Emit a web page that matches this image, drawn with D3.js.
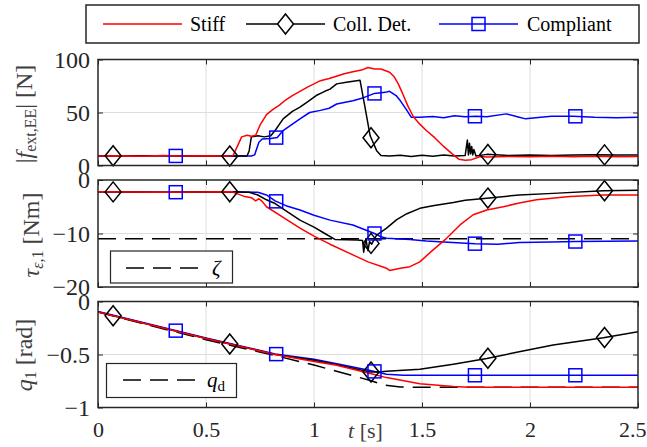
<!DOCTYPE html>
<html>
<head>
<meta charset="utf-8">
<script src="https://cdn.jsdelivr.net/npm/d3@7/dist/d3.min.js"></script>
<style>
  html, body { margin: 0; padding: 0; background: #fff; }
  svg { display: block; font-family: "Liberation Serif", "Times New Roman", serif; }
  svg text { font-family: "Liberation Serif", "Times New Roman", serif; }
</style>
</head>
<body>
<svg id="chart" width="647" height="447"></svg>
<script>
// ---- data: time [s] / value pairs for each run ----
const seriesNames = ["Stiff", "Coll. Det.", "Compliant"];
const seriesColors = ["#ff0000", "#000000", "#0000ff"];

// |f_ext,EE| [N]
const stiffForce = [[0,9],[0.1,9.3],[0.2,8.8],[0.3,9.4],[0.4,9],[0.5,9.2],[0.6,8.9],[0.625,9.2],[0.645,18],[0.665,27],[0.69,28.5],[0.71,27.5],[0.73,28.5],[0.75,38],[0.78,48],[0.81,53],[0.84,57],[0.87,62],[0.9,66],[0.935,70],[0.97,74],[1.0,77],[1.03,80],[1.07,82],[1.1,84],[1.14,86.5],[1.18,88.5],[1.22,90],[1.25,92.5],[1.28,91],[1.31,91],[1.35,88],[1.37,84],[1.39,77],[1.41,68],[1.435,56],[1.46,46],[1.49,39],[1.52,33],[1.56,26],[1.6,18],[1.64,11],[1.67,6],[1.7,5],[1.73,5.5],[1.77,8.5],[1.8,8],[1.9,8.6],[2.0,8.2],[2.1,8.8],[2.2,8.3],[2.3,8.7],[2.4,8.3],[2.5,8.6]];
const collForce = [[0,9],[0.15,9.3],[0.3,9.1],[0.45,8.9],[0.6,9],[0.69,9],[0.70,14],[0.71,27],[0.74,28],[0.77,27],[0.8,28],[0.82,33],[0.857,44],[0.9,51],[0.935,55],[0.97,60],[1.01,66],[1.05,70],[1.074,72],[1.105,77],[1.15,78.5],[1.213,80.5],[1.236,55],[1.26,28],[1.29,14],[1.31,9.5],[1.35,9],[1.4,9.6],[1.45,8.4],[1.5,9.6],[1.55,8.8],[1.6,9.8],[1.65,9],[1.7,9.5],[1.71,24],[1.715,10],[1.72,21],[1.725,11],[1.73,18],[1.735,10],[1.74,15],[1.75,9],[1.8,10.5],[1.9,9.5],[2.0,10],[2.1,9.5],[2.2,10],[2.3,10.2],[2.4,9.8],[2.5,9.8]];
const compForce = [[0,9],[0.15,9.2],[0.3,9.1],[0.45,8.9],[0.6,9],[0.71,9],[0.725,10],[0.745,22],[0.76,25],[0.8,25.5],[0.83,26.5],[0.857,33],[0.9,39],[0.935,44],[0.98,50],[1.03,52],[1.07,54],[1.105,58],[1.18,61],[1.23,64],[1.28,68],[1.33,69],[1.35,70],[1.38,66],[1.40,61],[1.43,52],[1.45,45.6],[1.49,45.5],[1.55,46.3],[1.6,45],[1.65,47],[1.7,46],[1.75,46.5],[1.8,46],[1.89,48.7],[1.95,45.5],[1.98,44],[2.05,45.5],[2.1,46.5],[2.2,46.5],[2.3,45.5],[2.4,45],[2.5,45.6]];

// tau_eps,1 [Nm]
const stiffTorque = [[0,-2.2],[0.3,-2.3],[0.62,-2.2],[0.64,-2.5],[0.68,-3.1],[0.71,-3.3],[0.73,-3.9],[0.745,-3.5],[0.76,-4.0],[0.78,-5.0],[0.85,-6.8],[0.935,-9],[1.0,-10.5],[1.074,-12.0],[1.18,-14],[1.25,-15.3],[1.336,-16.5],[1.35,-16.9],[1.4,-16.5],[1.444,-16.2],[1.49,-15.3],[1.55,-13.1],[1.614,-10.9],[1.676,-8.4],[1.737,-6.5],[1.8,-5.6],[1.876,-5],[1.95,-4.3],[2.03,-3.7],[2.185,-3.1],[2.34,-2.8],[2.5,-2.8]];
const collTorque = [[0,-2.2],[0.3,-2.3],[0.6,-2.2],[0.70,-2.3],[0.74,-2.8],[0.78,-3.7],[0.82,-4.4],[0.86,-5.5],[0.935,-7.5],[1.0,-8.8],[1.05,-10],[1.097,-11.1],[1.2,-11.2],[1.225,-11.3],[1.23,-13.5],[1.24,-11],[1.25,-13.2],[1.257,-11.5],[1.267,-12],[1.28,-11.0],[1.29,-10.3],[1.336,-9],[1.383,-7.4],[1.43,-6.3],[1.49,-5.3],[1.55,-4.8],[1.645,-4.2],[1.7,-3.8],[1.8,-3.4],[1.95,-2.8],[2.107,-2.5],[2.34,-2.0],[2.5,-1.9]];
const compTorque = [[0,-2.2],[0.3,-2.3],[0.6,-2.2],[0.74,-2.3],[0.78,-2.8],[0.82,-3.9],[0.87,-4.8],[0.935,-5.6],[1.0,-6.6],[1.074,-7.5],[1.18,-8.4],[1.28,-10],[1.31,-10.6],[1.336,-10.9],[1.444,-11.1],[1.52,-11.4],[1.6,-11.6],[1.745,-11.9],[1.85,-12],[1.95,-11.7],[2.1,-11.6],[2.21,-11.5],[2.5,-11.4]];
const zetaLevel = -11;

// q_1 [rad]
const desiredJoint = [[0,-0.10],[0.5,-0.36],[0.82,-0.51],[1.0,-0.60],[1.1,-0.655],[1.26,-0.745],[1.33,-0.79],[1.4,-0.806],[1.5,-0.81],[2.5,-0.81]];
const stiffJoint = [[0,-0.10],[0.5,-0.35],[0.82,-0.50],[1.0,-0.565],[1.1,-0.60],[1.26,-0.68],[1.336,-0.718],[1.49,-0.775],[1.645,-0.803],[1.72,-0.808],[2.5,-0.81]];
const collJoint = [[0,-0.10],[0.5,-0.35],[0.82,-0.50],[1.0,-0.555],[1.1,-0.595],[1.26,-0.665],[1.3,-0.665],[1.336,-0.658],[1.49,-0.639],[1.645,-0.592],[1.8,-0.538],[1.95,-0.474],[2.107,-0.411],[2.34,-0.341],[2.5,-0.285]];
const compJoint = [[0,-0.095],[0.5,-0.345],[0.82,-0.495],[1.0,-0.545],[1.1,-0.585],[1.26,-0.65],[1.336,-0.686],[1.413,-0.696],[2.5,-0.696]];

// marker sample times
const collMarkerTimes = [0.07, 0.61, 1.264, 1.805, 2.345];
const compMarkerTimes = [0.36, 0.825, 1.28, 1.745, 2.21];

// axis ticks
const xTicks = [0, 0.5, 1, 1.5, 2, 2.5];
const xTickLabels = ["0", "0.5", "1", "1.5", "2", "2.5"];
const forceTicks = [0, 50, 100];
const forceTickLabels = ["0", "50", "100"];
const torqueTicks = [-20, -10, 0];
const torqueTickLabels = ["\u221220", "\u221210", "0"];
const jointTicks = [-1, -0.5, 0];
const jointTickLabels = ["\u22121", "\u22120.5", "0"];

// ---- layout ----
const svg = d3.select("#chart");
const serif = "'Liberation Serif', 'Times New Roman', serif";
const left = 98, right = 638;
const x = d3.scaleLinear().domain([0, 2.5]).range([left, right]);
const axisColor = "#262626";
const gridColor = "#dedede";
const xTickFont = 22, yTickFont = 24;

const panels = [
  { top: 59.5, bottom: 165.5, domain: [0, 100], ticks: forceTicks, labels: forceTickLabels,
    series: [stiffForce, collForce, compForce] },
  { top: 180, bottom: 287, domain: [-20, 0], ticks: torqueTicks, labels: torqueTickLabels,
    series: [stiffTorque, collTorque, compTorque] },
  { top: 301.5, bottom: 407.5, domain: [-1, 0], ticks: jointTicks, labels: jointTickLabels,
    series: [stiffJoint, collJoint, compJoint] }
];

function interp(data, t) {
  const i = d3.bisector(d => d[0]).right(data, t);
  if (i <= 0) return data[0][1];
  if (i >= data.length) return data[data.length - 1][1];
  const a = data[i - 1], b = data[i];
  return a[1] + (b[1] - a[1]) * (t - a[0]) / (b[0] - a[0]);
}

const diamondPath = (cx, cy) => `M${cx},${cy - 10}L${cx + 8},${cy}L${cx},${cy + 10}L${cx - 8},${cy}Z`;

panels.forEach((p, pi) => {
  const y = d3.scaleLinear().domain(p.domain).range([p.bottom, p.top]);
  const g = svg.append("g");

  // grid
  g.selectAll("line.vgrid").data(xTicks.slice(1, -1)).join("line")
    .attr("x1", d => x(d)).attr("x2", d => x(d))
    .attr("y1", p.top).attr("y2", p.bottom)
    .attr("stroke", gridColor).attr("stroke-width", 1);
  g.append("line")
    .attr("x1", left).attr("x2", right)
    .attr("y1", y(p.ticks[1])).attr("y2", y(p.ticks[1]))
    .attr("stroke", gridColor).attr("stroke-width", 1);

  // series
  const clipId = "clip" + pi;
  svg.append("clipPath").attr("id", clipId).append("rect")
    .attr("x", left).attr("y", p.top).attr("width", right - left).attr("height", p.bottom - p.top);
  const line = d3.line().x(d => x(d[0])).y(d => y(d[1]));
  const lines = g.append("g").attr("clip-path", `url(#${clipId})`);

  if (pi === 1) {
    lines.append("line")
      .attr("x1", left).attr("x2", right)
      .attr("y1", y(zetaLevel)).attr("y2", y(zetaLevel))
      .attr("stroke", "#000").attr("stroke-width", 1.5).attr("stroke-dasharray", "18,9");
  }
  if (pi === 2) {
    lines.append("path").datum(desiredJoint).attr("d", line)
      .attr("fill", "none").attr("stroke", "#000").attr("stroke-width", 1.5)
      .attr("stroke-dasharray", "18,9");
  }
  // draw order: compliant, collision detection, stiff on top
  [2, 1, 0].forEach(si => {
    lines.append("path").datum(p.series[si]).attr("d", line)
      .attr("fill", "none").attr("stroke", seriesColors[si]).attr("stroke-width", 1.5)
      .attr("stroke-linejoin", "round");
  });

  // markers
  g.selectAll("path.dia").data(collMarkerTimes).join("path")
    .attr("d", t => diamondPath(x(t), y(interp(p.series[1], t))))
    .attr("fill", "none").attr("stroke", "#000").attr("stroke-width", 1.5);
  g.selectAll("rect.sq").data(compMarkerTimes).join("rect")
    .attr("x", t => x(t) - 6.5).attr("y", t => y(interp(p.series[2], t)) - 6.5)
    .attr("width", 13).attr("height", 13)
    .attr("fill", "none").attr("stroke", "#0000ff").attr("stroke-width", 1.5);

  // axes with inward ticks
  const yAxis = d3.axisLeft(y).tickValues(p.ticks).tickFormat((d, i) => p.labels[i])
    .tickSize(-5).tickPadding(8);
  const ya = g.append("g").attr("transform", `translate(${left},0)`).call(yAxis);
  const yAxisR = d3.axisRight(y).tickValues(p.ticks).tickFormat("").tickSize(-5);
  const yr = g.append("g").attr("transform", `translate(${right},0)`).call(yAxisR);
  const xAxisT = d3.axisTop(x).tickValues(xTicks).tickFormat("").tickSize(-5);
  const xt = g.append("g").attr("transform", `translate(0,${p.top})`).call(xAxisT);
  const xAxisB = d3.axisBottom(x).tickValues(xTicks)
    .tickFormat((d, i) => pi === 2 ? xTickLabels[i] : "").tickSize(-5).tickPadding(14);
  const xb = g.append("g").attr("transform", `translate(0,${p.bottom})`).call(xAxisB);

  [[ya, yTickFont], [yr, yTickFont], [xt, xTickFont], [xb, xTickFont]].forEach(([a, fs]) => {
    a.attr("font-family", serif).attr("font-size", fs);
    a.select(".domain").remove();
    a.selectAll(".tick line").attr("stroke", axisColor).attr("stroke-width", 1);
    a.selectAll("text").attr("fill", axisColor)
      .style("font-size", fs + "px").style("font-family", serif);
  });
  if (pi === 2) {
    // keep the last tick label inside the page edge
    xb.selectAll("text").filter(d => d === 2.5).attr("text-anchor", "end").attr("dx", 8);
  }

  g.append("rect")
    .attr("x", left).attr("y", p.top).attr("width", right - left).attr("height", p.bottom - p.top)
    .attr("fill", "none").attr("stroke", axisColor).attr("stroke-width", 1.5);
});

// ---- y-axis titles ----
const labelColor = "#404040";
function yTitle(cx, cy, size, build) {
  const t = svg.append("text")
    .attr("transform", `translate(${cx},${cy}) rotate(-90)`)
    .attr("text-anchor", "middle").attr("fill", labelColor)
    .style("font-family", serif).style("font-size", size + "px");
  build(t);
}
yTitle(32, 114, 24, t => {
  t.append("tspan").text("|");
  t.append("tspan").attr("font-style", "italic").text("f");
  t.append("tspan").attr("baseline-shift", "-25%").style("font-size", "16px").text("ext,EE");
  t.append("tspan").text("|  [N]");
});
yTitle(39, 235, 24, t => {
  t.append("tspan").attr("font-style", "italic").text("τ");
  t.append("tspan").attr("baseline-shift", "-25%").style("font-size", "16px").attr("font-style", "italic").text("ε");
  t.append("tspan").attr("baseline-shift", "-25%").style("font-size", "16px").text(",1");
  t.append("tspan").text("  [Nm]");
});
yTitle(32, 355, 24, t => {
  t.append("tspan").attr("font-style", "italic").text("q");
  t.append("tspan").attr("baseline-shift", "-25%").style("font-size", "16px").text("1");
  t.append("tspan").text("  [rad]");
});

// ---- x-axis title ----
const xTitle = svg.append("text").attr("x", 348).attr("y", 438).attr("fill", labelColor)
  .style("font-family", serif).style("font-size", "22px");
xTitle.append("tspan").attr("font-style", "italic").text("t");
xTitle.append("tspan").text("  [s]");

// ---- main legend ----
const leg = svg.append("g");
leg.append("rect").attr("x", 86).attr("y", 5).attr("width", 553).attr("height", 38)
  .attr("fill", "#fff").attr("stroke", axisColor).attr("stroke-width", 1.5);
const legItems = [
  { x1: 103, x2: 182, tx: 190 },
  { x1: 246, x2: 325, tx: 333 },
  { x1: 439, x2: 518, tx: 527 }
];
legItems.forEach((it, i) => {
  leg.append("line").attr("x1", it.x1).attr("x2", it.x2).attr("y1", 24).attr("y2", 24)
    .attr("stroke", seriesColors[i]).attr("stroke-width", 1.5);
  const cx = (it.x1 + it.x2) / 2;
  if (i === 1) {
    leg.append("path").attr("d", diamondPath(cx, 24)).attr("fill", "#fff")
      .attr("stroke", "#000").attr("stroke-width", 1.5);
  }
  if (i === 2) {
    leg.append("rect").attr("x", cx - 6.5).attr("y", 17.5).attr("width", 13).attr("height", 13)
      .attr("fill", "none").attr("stroke", "#0000ff").attr("stroke-width", 1.5);
  }
  leg.append("text").attr("x", it.tx).attr("y", 31).attr("fill", "#000")
    .style("font-family", serif).style("font-size", "20px").text(seriesNames[i]);
});

// ---- inset legends ----
function insetLegend(bx, by, bw, bh, lx1, lx2, ly, tx, build) {
  const g = svg.append("g");
  g.append("rect").attr("x", bx).attr("y", by).attr("width", bw).attr("height", bh)
    .attr("fill", "#fff").attr("stroke", axisColor).attr("stroke-width", 1.2);
  g.append("line").attr("x1", lx1).attr("x2", lx2).attr("y1", ly).attr("y2", ly)
    .attr("stroke", "#000").attr("stroke-width", 1.5).attr("stroke-dasharray", "18,9");
  const t = g.append("text").attr("x", tx).attr("y", ly + 7).attr("fill", "#000")
    .style("font-family", serif).style("font-size", "21px");
  build(t);
}
insetLegend(110.5, 251, 122, 32, 126, 205, 268, 212, t => {
  t.append("tspan").attr("font-style", "italic").text("ζ");
});
insetLegend(106.5, 363.5, 130, 34, 123, 203, 380, 207, t => {
  t.append("tspan").attr("font-style", "italic").text("q");
  t.append("tspan").attr("baseline-shift", "-25%").style("font-size", "15px").text("d");
});
</script>
</body>
</html>
